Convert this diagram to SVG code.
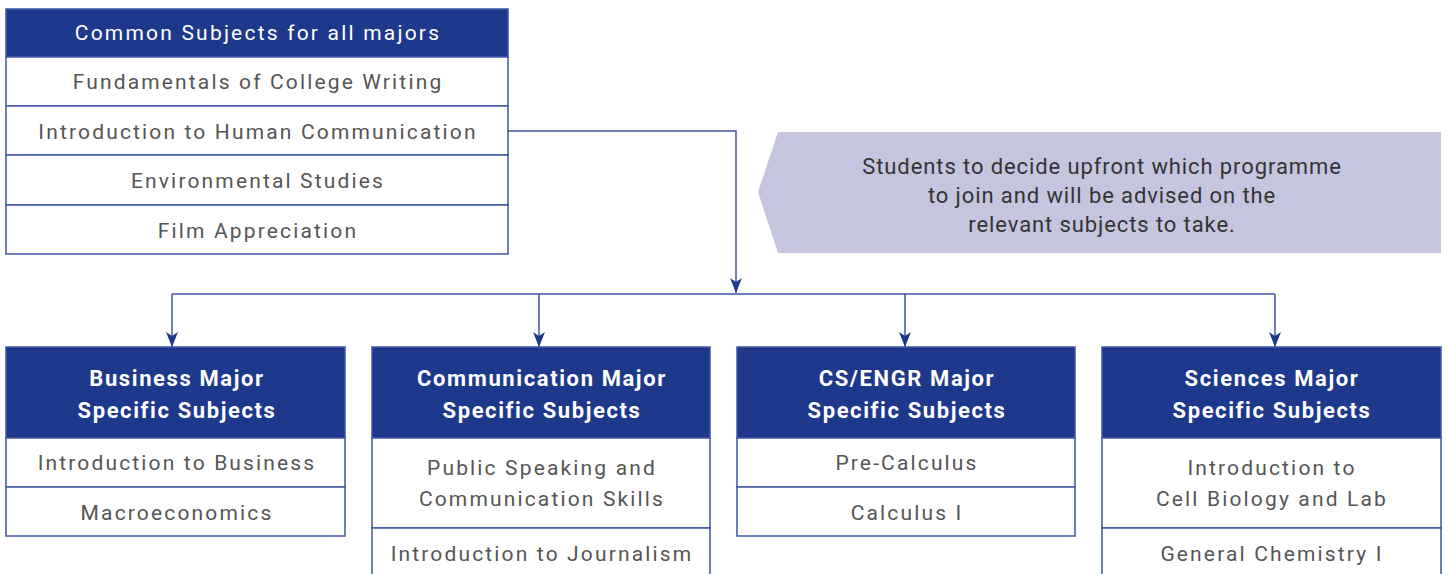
<svg xmlns="http://www.w3.org/2000/svg" width="1448" height="574" viewBox="0 0 1448 574">
<defs>
<style>
.hd{fill:#1e388b;stroke:#3f55a5;stroke-width:1.5}
.row{fill:#fff;stroke:#3f55a5;stroke-width:1.5}
.ht{font-family:Roboto,"Liberation Sans",sans-serif;font-size:21px;fill:#fff;text-anchor:middle;dominant-baseline:central;letter-spacing:2.2px}
.hb{font-family:Roboto,"Liberation Sans",sans-serif;font-size:22px;font-weight:bold;fill:#fff;text-anchor:middle;dominant-baseline:central;letter-spacing:1.6px}
.bt{font-family:Roboto,"Liberation Sans",sans-serif;font-size:21px;fill:#555;text-anchor:middle;dominant-baseline:central;letter-spacing:2.15px}
.ct{font-family:Roboto,"Liberation Sans",sans-serif;font-size:22px;fill:#333;text-anchor:middle;dominant-baseline:central;letter-spacing:0.9px}
.ln{fill:none;stroke:#3f55a5;stroke-width:1.5}
</style>
<marker id="ah" viewBox="0 0 15 12" refX="15" refY="6" markerWidth="15" markerHeight="12" markerUnits="userSpaceOnUse" orient="auto">
<path d="M0,0 L15,6 L0,12 L4,6 Z" fill="#1e388b"/>
</marker>
</defs>

<g id="common">
<rect class="hd" x="6" y="9" width="502" height="48"/>
<text class="ht" x="258" y="33">Common Subjects for all majors</text>
<rect class="row" x="6" y="57" width="502" height="49"/>
<text class="bt" x="258" y="82">Fundamentals of College Writing</text>
<rect class="row" x="6" y="106" width="502" height="49"/>
<text class="bt" x="258" y="132">Introduction to Human Communication</text>
<rect class="row" x="6" y="155" width="502" height="50"/>
<text class="bt" x="258" y="181">Environmental Studies</text>
<rect class="row" x="6" y="205" width="502" height="49"/>
<text class="bt" x="258" y="231">Film Appreciation</text>
</g>

<g id="note">
<polygon points="758,192 778,132 1441,132 1441,253 778,253" fill="#c5c5e0"/>
<text class="ct" x="1102" y="166">Students to decide upfront which programme</text>
<text class="ct" x="1102" y="195">to join and will be advised on the</text>
<text class="ct" x="1102" y="224">relevant subjects to take.</text>
</g>

<g id="connectors">
<path class="ln" d="M508,131 H736 V293" marker-end="url(#ah)"/>
<path class="ln" d="M172,294 H1275"/>
<path class="ln" d="M172,294 V347" marker-end="url(#ah)"/>
<path class="ln" d="M539,294 V347" marker-end="url(#ah)"/>
<path class="ln" d="M905,294 V347" marker-end="url(#ah)"/>
<path class="ln" d="M1275,294 V347" marker-end="url(#ah)"/>
</g>

<g id="business">
<rect class="hd" x="6" y="347" width="339" height="91"/>
<text class="hb" x="177" y="378">Business Major</text>
<text class="hb" x="177" y="410">Specific Subjects</text>
<rect class="row" x="6" y="438" width="339" height="49"/>
<text class="bt" x="177" y="463">Introduction to Business</text>
<rect class="row" x="6" y="487" width="339" height="49"/>
<text class="bt" x="177" y="513">Macroeconomics</text>
</g>

<g id="communication">
<rect class="hd" x="372" y="347" width="338" height="91"/>
<text class="hb" x="542" y="378">Communication Major</text>
<text class="hb" x="542" y="410">Specific Subjects</text>
<rect class="row" x="372" y="438" width="338" height="90"/>
<text class="bt" x="542" y="468">Public Speaking and</text>
<text class="bt" x="542" y="499">Communication Skills</text>
<rect class="row" x="372" y="528" width="338" height="70"/>
<text class="bt" x="542" y="554">Introduction to Journalism</text>
</g>

<g id="csengr">
<rect class="hd" x="737" y="347" width="338" height="91"/>
<text class="hb" x="907" y="378">CS/ENGR Major</text>
<text class="hb" x="907" y="410">Specific Subjects</text>
<rect class="row" x="737" y="438" width="338" height="49"/>
<text class="bt" x="907" y="463">Pre-Calculus</text>
<rect class="row" x="737" y="487" width="338" height="49"/>
<text class="bt" x="907" y="513">Calculus I</text>
</g>

<g id="sciences">
<rect class="hd" x="1102" y="347" width="339" height="91"/>
<text class="hb" x="1272" y="378">Sciences Major</text>
<text class="hb" x="1272" y="410">Specific Subjects</text>
<rect class="row" x="1102" y="438" width="339" height="90"/>
<text class="bt" x="1272" y="468">Introduction to</text>
<text class="bt" x="1272" y="499">Cell Biology and Lab</text>
<rect class="row" x="1102" y="528" width="339" height="70"/>
<text class="bt" x="1272" y="554">General Chemistry I</text>
</g>
</svg>
